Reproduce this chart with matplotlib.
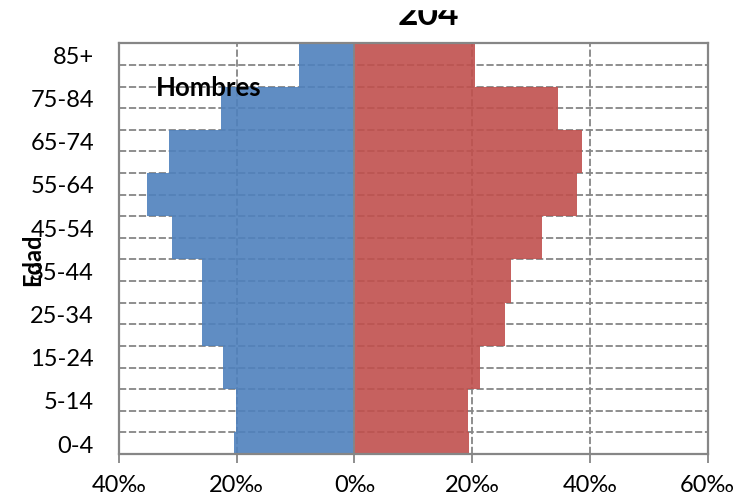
import matplotlib
matplotlib.use("Agg")
import matplotlib.pyplot as plt
from matplotlib.patches import Rectangle

plt.rcParams['font.family'] = ['Lato', 'DejaVu Sans']

# one row per 5-year step; 10-year groups are repeated over two rows
age_rows = ['0-4', '5-14', '5-14', '15-24', '15-24', '25-34', '25-34',
            '35-44', '35-44', '45-54', '45-54', '55-64', '55-64',
            '65-74', '65-74', '75-84', '75-84', '85+', '85+']
hombres = [20.5, 20.2, 20.2, 22.4, 22.4, 25.9, 25.9, 25.9, 25.9, 31.0,
           31.0, 35.3, 35.3, 31.5, 31.5, 22.7, 22.7, 9.4, 9.4]
mujeres = [19.4, 19.3, 19.3, 21.3, 21.3, 25.5, 25.5, 26.6, 26.6, 31.9,
           31.9, 37.8, 37.8, 38.7, 38.7, 34.6, 34.6, 20.4, 20.4]
x_ticks = [-40, -20, 0, 20, 40, 60]

grey = '#868686'
blue = '#4F81BD'
red = '#C0504D'

fig = plt.figure(figsize=(7.4, 5.02), dpi=100)
ax = fig.add_axes([0.1608, 0.0936, 0.7955, 0.8182])

rows = list(range(len(age_rows)))

# dashed grid under semi transparent bars
for k in rows[:-1]:
    ax.axhline(k + 0.5, color=grey, lw=1.3, dashes=(4, 1.5), zorder=1)
for xv in x_ticks[1:-1]:
    ax.axvline(xv, color=grey, lw=1.3, dashes=(4, 1.5), zorder=1)

ax.barh(rows, [-v for v in hombres], height=1.0, color=blue, alpha=0.9,
        linewidth=0, zorder=2)
ax.barh(rows, mujeres, height=1.0, color=red, alpha=0.9,
        linewidth=0, zorder=2)
ax.axvline(0, color=grey, lw=1.3, zorder=3)

ax.set_xlim(-40, 60)
ax.set_ylim(-0.5, len(age_rows) - 0.5)

ax.set_xticks(x_ticks)
ax.set_xticklabels([f"{abs(v)}‰" for v in x_ticks], fontsize=17)
ax.set_yticks(rows[::2])
ax.set_yticklabels(age_rows[::2], fontsize=17)
ax.tick_params(axis='x', length=6.5, width=1.3, color=grey, pad=8)
ax.tick_params(axis='y', length=0, pad=18)

for sp in ax.spines.values():
    sp.set_color(grey)
    sp.set_linewidth(1.6)
    sp.set_zorder(4)

ax.text(-24.7, 16.5, 'Hombres', fontsize=18.5, fontweight='bold',
        ha='center', va='center', zorder=5)

fig.text(33 / 740, 1 - 260 / 502, 'Edad', rotation=90, fontsize=17,
         fontweight='bold', ha='center', va='center')

# title, clipped at the top as in the source image
fig.text(398 / 740, 1 - 25 / 502, '204', fontsize=25.5, fontweight='bold',
         ha='left', va='baseline', zorder=1)
fig.patches.append(Rectangle((0, 1 - 10 / 502), 1, 10 / 502,
                             transform=fig.transFigure, color='white',
                             zorder=10))

fig.savefig('out.png', dpi=100)
